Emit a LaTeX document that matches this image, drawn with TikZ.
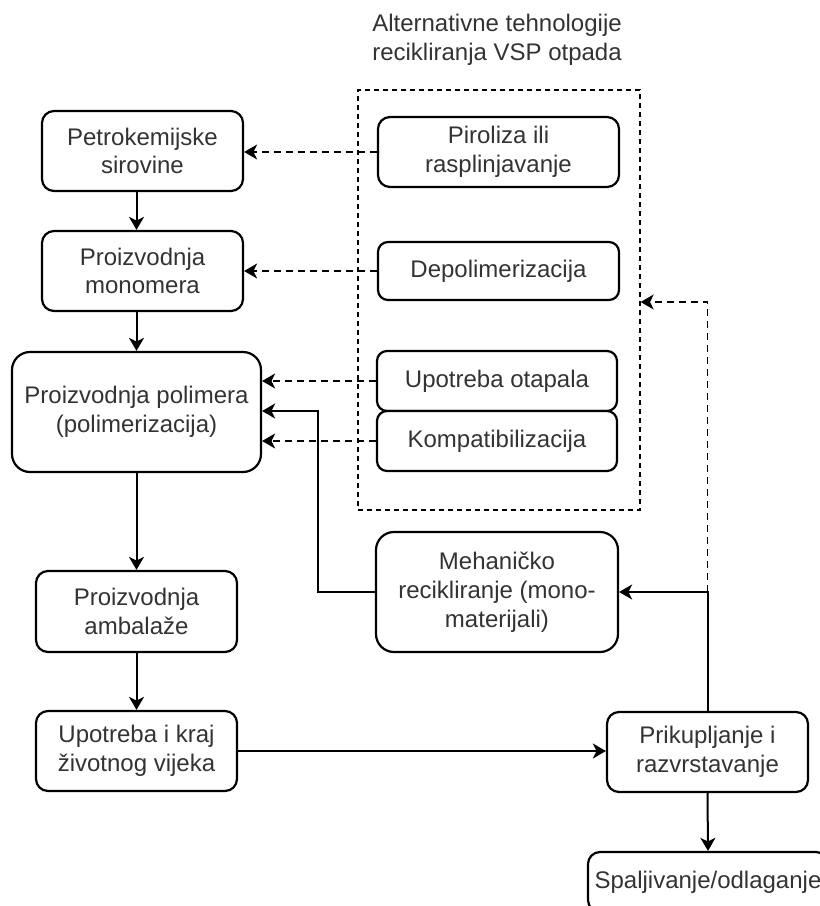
\documentclass[tikz,border=0pt]{standalone}
\usepackage{fontspec}
\setmainfont{Liberation Sans}
\usetikzlibrary{arrows.meta}
\begin{document}
\begin{tikzpicture}[x=0.5pt,y=-0.5pt,
  box/.style={draw=black, line width=1.1pt, rounded corners=6pt, align=center,
    inner sep=0pt, font=\fontsize{12}{14.4}\selectfont, text=black!80, fill=white},
  bigbox/.style={box, rounded corners=9pt},
  smallbox/.style={box, rounded corners=5pt},
  arr/.style={-{Stealth[length=6.5pt,width=7.5pt,inset=1.8pt]}, line width=1pt},
  darr/.style={arr, line width=0.75pt, dash pattern=on 3.5pt off 2.5pt},
  ttl/.style={align=center, inner sep=0pt, font=\fontsize{12}{14.4}\selectfont, text=black!80},
]
\useasboundingbox (0,0) rectangle (820,906);
\clip (0,0) rectangle (820,906);

% container
\node[draw=black, line width=0.65pt, dash pattern=on 2.5pt off 2pt, minimum width=141pt, minimum height=210pt, inner sep=0pt] (cont) at (499,300) {};
\node[ttl] (title) at (497,40) {Alternativne tehnologije\\recikliranja VSP otpada};

% left column
\node[box, minimum width=100.5pt, minimum height=40pt] (petro) at (142.5,151) {Petrokemijske\\sirovine};
\node[box, minimum width=100.5pt, minimum height=40pt] (mono) at (142.5,271) {Proizvodnja\\monomera};
\node[bigbox, minimum width=124.5pt, minimum height=60pt] (poly) at (136.5,412) {Proizvodnja polimera\\(polimerizacija)};
\node[box, minimum width=100.5pt, minimum height=40.5pt] (amb) at (136.5,611.5) {Proizvodnja\\ambalaže};
\node[box, minimum width=100.5pt, minimum height=40pt] (use) at (136.5,751) {Upotreba i kraj\\životnog vijeka};

% alternative technologies
\node[box, minimum width=120.5pt, minimum height=35pt] (pir) at (498.5,152) {Piroliza ili\\rasplinjavanje};
\node[smallbox, minimum width=120.5pt, minimum height=29pt] (depo) at (498.5,271) {Depolimerizacija};
\node[smallbox, minimum width=120pt, minimum height=30pt] (otap) at (497,381) {Upotreba otapala};
\node[smallbox, minimum width=120pt, minimum height=30pt] (komp) at (497,441) {Kompatibilizacija};

% right part
\node[bigbox, minimum width=121pt, minimum height=60pt] (meh) at (497,592) {Mehaničko\\recikliranje (mono-\\materijali)};
\node[box, minimum width=100.5pt, minimum height=40pt] (prik) at (707.5,752) {Prikupljanje i\\razvrstavanje};
\node[box, minimum width=120pt, minimum height=30pt] (spal) at (708,882) {Spaljivanje/odlaganje};

% solid flow
\draw[arr] (petro.south -| poly.north) -- (mono.north -| poly.north);
\draw[arr] (mono.south -| poly.north) -- (poly.north);
\draw[arr] (poly.south) -- (amb.north);
\draw[arr] (amb.south) -- (use.north);
\draw[arr] (use.east) -- (use.east -| prik.west);
\draw[arr] (prik.south) -- (spal.north);
\coordinate (j) at (prik.north |- meh.east);
\draw[arr] (prik.north) -- (j) -- (meh.east);
\coordinate (mc) at (318,411);
\draw[arr] (meh.west) -| (mc) -- (mc -| poly.east);

% dashed flows
\coordinate (k) at (707.5,302);
\draw[darr] (j) -- (k) -- (k -| cont.east);
\draw[darr] (pir.west) -- (pir.west -| petro.east);
\draw[darr] (depo.west) -- (depo.west -| mono.east);
\draw[darr] (otap.west) -- (otap.west -| poly.east);
\draw[darr] (komp.west) -- (komp.west -| poly.east);
\end{tikzpicture}
\end{document}
